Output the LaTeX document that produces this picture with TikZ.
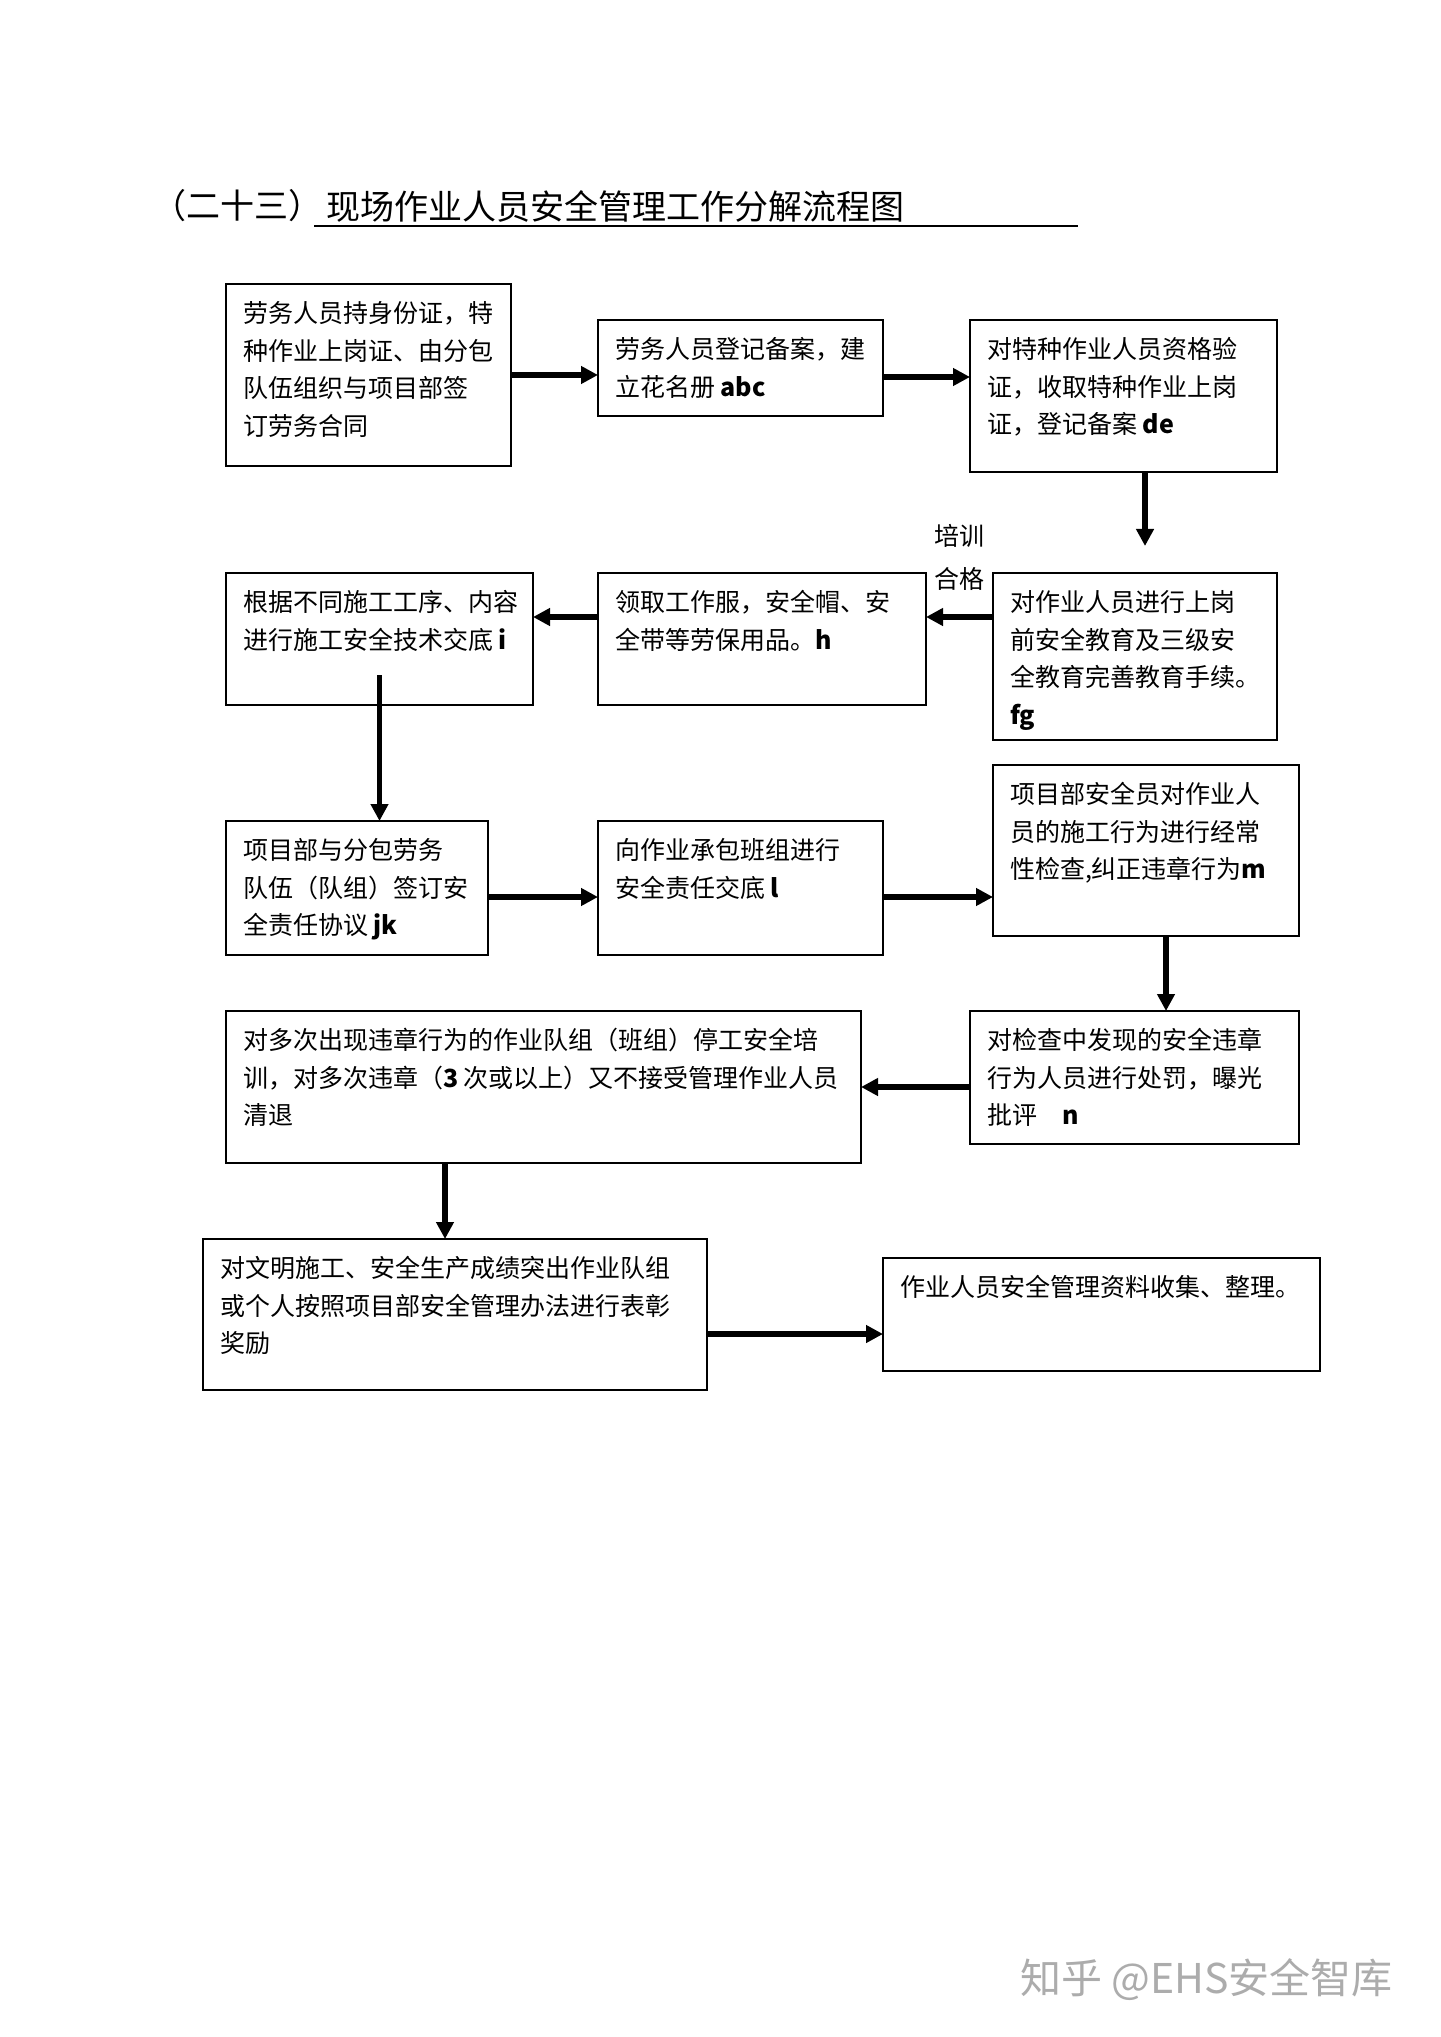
\documentclass[tikz,border=0pt]{standalone}
\usepackage{fontspec}
\setmainfont{Noto Sans CJK SC}
\usetikzlibrary{arrows.meta}
\newcommand{\boxfont}{\fontsize{12.5}{18.75}\selectfont}
\newcommand{\flowbox}[6]{%
  \pgfmathsetlengthmacro{\bw}{(#4-#2)*0.5pt-17pt}%
  \pgfmathsetlengthmacro{\bh}{(#5-#3)*0.5pt-12pt}%
  \node[fbox, anchor=north west] (#1) at (#2,#3)
    {\parbox[c][\bh][t]{\bw}{\boxfont\raggedright\rule{0pt}{13.4pt}#6}};%
}
\begin{document}
\begin{tikzpicture}[x=0.5pt,y=-0.5pt,
  fbox/.style={draw, line width=0.9pt, inner xsep=8.5pt, inner ysep=6pt, outer sep=0pt},
  arr/.style={line width=2.6pt, -{Triangle[length=8.5pt,width=8.5pt]}},
  lbl/.style={inner sep=0pt, font=\fontsize{12.5}{21.5}\selectfont, align=center}]
\useasboundingbox (0,0) rectangle (1440,2037);
\fill[white] (0,0) rectangle (1440,2037);
% title
\node[anchor=west, inner sep=0pt, font=\fontsize{17}{20}\selectfont] (t1) at (152,206) {（二十三）};
\node[anchor=west, inner sep=0pt, font=\fontsize{17}{20}\selectfont] (t2) at (326,206) {现场作业人员安全管理工作分解流程图};
\coordinate (ul1) at (314,226);
\coordinate (ul2) at (1078,226);
\draw[line width=1pt] (ul1) -- (ul2);
% boxes
\flowbox{b1}{226}{284}{511}{466}{劳务人员持身份证，特\\种作业上岗证、由分包\\队伍组织与项目部签\\订劳务合同}
\flowbox{b2}{598}{320}{883}{416}{劳务人员登记备案，建\\立花名册~\textbf{abc}}
\flowbox{b3}{970}{320}{1277}{472}{对特种作业人员资格验\\证，收取特种作业上岗\\证，登记备案~\textbf{de}}
\flowbox{b4}{993}{573}{1277}{740}{对作业人员进行上岗\\前安全教育及三级安\\全教育完善教育手续。\\\textbf{fg}}
\flowbox{b5}{598}{573}{926}{705}{领取工作服，安全帽、安\\全带等劳保用品。\textbf{h}}
\flowbox{b6}{226}{573}{533}{705}{根据不同施工工序、内容\\进行施工安全技术交底~\textbf{i}}
\flowbox{b7}{226}{821}{488}{955}{项目部与分包劳务\\队伍（队组）签订安\\全责任协议~\textbf{jk}}
\flowbox{b8}{598}{821}{883}{955}{向作业承包班组进行\\安全责任交底~\textbf{l}}
\flowbox{b9}{993}{765}{1299}{936}{项目部安全员对作业人\\员的施工行为进行经常\\\mbox{性检查,纠正违章行为\textbf{m}}}
\flowbox{b10}{970}{1011}{1299}{1144}{对检查中发现的安全违章\\行为人员进行处罚，曝光\\批评\quad\textbf{n}}
\flowbox{b11}{226}{1011}{861}{1163}{对多次出现违章行为的作业队组（班组）停工安全培\\\mbox{训，对多次违章（\textbf{3} 次或以上）又不接受管理作业人员}\\清退}
\flowbox{b12}{203}{1239}{707}{1390}{对文明施工、安全生产成绩突出作业队组\\或个人按照项目部安全管理办法进行表彰\\奖励}
\flowbox{b13}{883}{1258}{1320}{1371}{作业人员安全管理资料收集、整理。}
% label
\node[lbl] (pxhg) at (959,557) {培训\\合格};
% arrows
\draw[arr] (b1.east) -- (b1.east -| b2.west);
\draw[arr] ([yshift=-4.5pt]b2.east) -- ([yshift=-4.5pt]b2.east -| b3.west);
\draw[arr, shorten >=13.5pt] ([xshift=10.75pt]b3.south) -- ([xshift=10.75pt]b3.south |- b4.north);
\draw[arr] ([yshift=19.75pt]b4.west) -- ([yshift=19.75pt]b4.west -| b5.east);
\draw[arr] ([yshift=11pt]b5.west) -- ([yshift=11pt]b5.west -| b6.east);
\draw[arr] ([yshift=15pt]b6.south) -- (b6.south |- b7.north);
\draw[arr] ([yshift=-4.5pt]b7.east) -- ([yshift=-4.5pt]b7.east -| b8.west);
\draw[arr] ([yshift=-4.5pt]b8.east) -- ([yshift=-4.5pt]b8.east -| b9.west);
\draw[arr] ([xshift=10pt]b9.south) -- ([xshift=10pt]b9.south |- b10.north);
\draw[arr] (b10.west |- b11.east) -- (b11.east);
\draw[arr] ([xshift=-5pt]b12.north |- b11.south) -- ([xshift=-5pt]b12.north);
\draw[arr] ([yshift=-9.75pt]b12.east) -- ([yshift=-9.75pt]b12.east -| b13.west);
% watermark
\node[anchor=west, inner sep=0pt, text=gray!65, font=\fontsize{20.5}{24}\selectfont] (wm) at (1020,1980) {知乎 @EHS安全智库};
\end{tikzpicture}
\end{document}
